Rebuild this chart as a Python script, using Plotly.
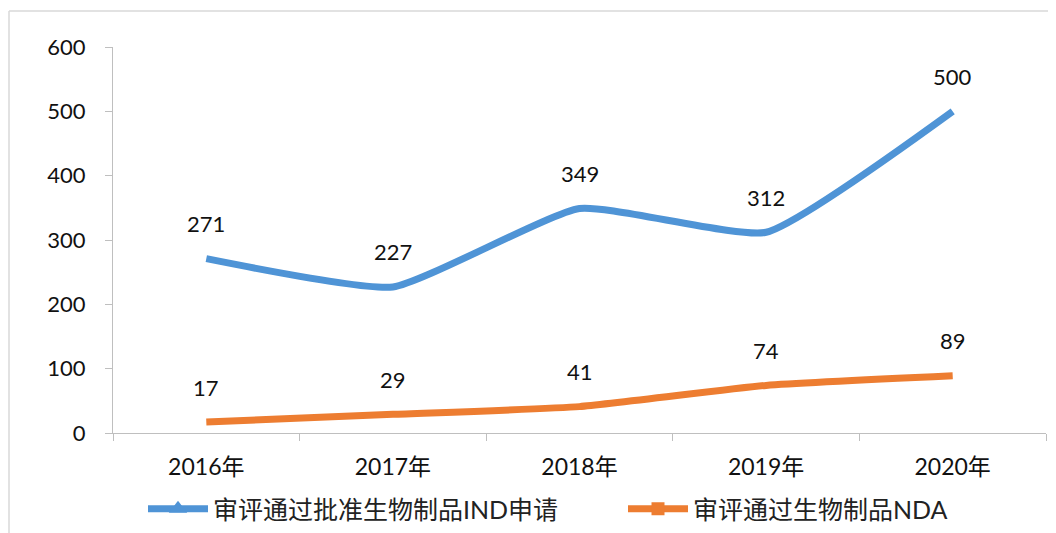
import plotly.graph_objects as go

categories = ["2016年", "2017年", "2018年", "2019年", "2020年"]
ind_values = [271, 227, 349, 312, 500]
nda_values = [17, 29, 41, 74, 89]
ind_name = "审评通过批准生物制品IND申请"
nda_name = "审评通过生物制品NDA"
y_ticks = [0, 100, 200, 300, 400, 500, 600]

BLUE = "#4F94D6"
ORANGE = "#ED7D31"
FONT = "Lato, 'Noto Sans CJK SC', sans-serif"

# page body has an 8px margin, so figure coords = screen coords - 8
FW, FH = 1048, 525
L, T, W, H = 105, 39, 933, 386


def px_x(x):
    return (x - 8 - L) / W


def px_y(y):
    return (T + H - (y - 8)) / H


fig = go.Figure()
for i, (name, vals, color, sym, msize) in enumerate([(ind_name, ind_values, BLUE, "triangle-up", 17),
                                                     (nda_name, nda_values, ORANGE, "square", 13)]):
    fig.add_trace(go.Scatter(x=categories, y=vals, mode="lines",
                             line=dict(color=color, width=7, shape="spline", smoothing=0.45),
                             showlegend=False, hoverinfo="x+y"))
    fig.add_trace(go.Scatter(x=[None], y=[None], mode="lines+markers", name=name,
                             legend="legend" if i == 0 else "legend2",
                             line=dict(color=color, width=7),
                             marker=dict(symbol=sym, size=msize, color=color)))
    for c, v in zip(categories, vals):
        fig.add_annotation(x=c, y=v, text=str(v), showarrow=False, yshift=35,
                           font=dict(size=22, color="#111111", family=FONT))

fig.add_shape(type="line", xref="paper", yref="paper",
              x0=px_x(9), x1=px_x(1070), y0=px_y(11), y1=px_y(11),
              line=dict(color="#D9D9D9", width=1.5))
fig.add_shape(type="line", xref="paper", yref="paper",
              x0=px_x(9), x1=px_x(9), y0=px_y(11), y1=px_y(560),
              line=dict(color="#D9D9D9", width=1.5))

leg_common = dict(orientation="h", xanchor="left", yanchor="top",
                  y=px_y(486), font=dict(size=25, color="#222222"),
                  itemwidth=60, bgcolor="rgba(0,0,0,0)")

fig.update_layout(
    width=FW, height=FH,
    margin=dict(l=L, r=FW - L - W, t=T, b=FH - T - H, autoexpand=False),
    paper_bgcolor="white", plot_bgcolor="white",
    font=dict(family=FONT, size=22, color="#111111"),
    xaxis=dict(type="category", range=[-0.5, 4.5], tickson="boundaries",
               ticks="outside", ticklen=7, tickcolor="#BFBFBF",
               showline=True, linecolor="#BFBFBF", linewidth=1.2,
               showgrid=False, tickfont=dict(size=23), ticklabelstandoff=13, fixedrange=True),
    yaxis=dict(range=[0, 600], tickvals=y_ticks, ticks="outside", ticklen=7,
               tickcolor="#BFBFBF", showline=True, linecolor="#BFBFBF", linewidth=1.2,
               showgrid=False, zeroline=False, tickfont=dict(size=22), ticklabelstandoff=15),
    legend=dict(x=px_x(143), **leg_common),
    legend2=dict(x=px_x(623), **leg_common),
)

fig.write_html("out.html")
